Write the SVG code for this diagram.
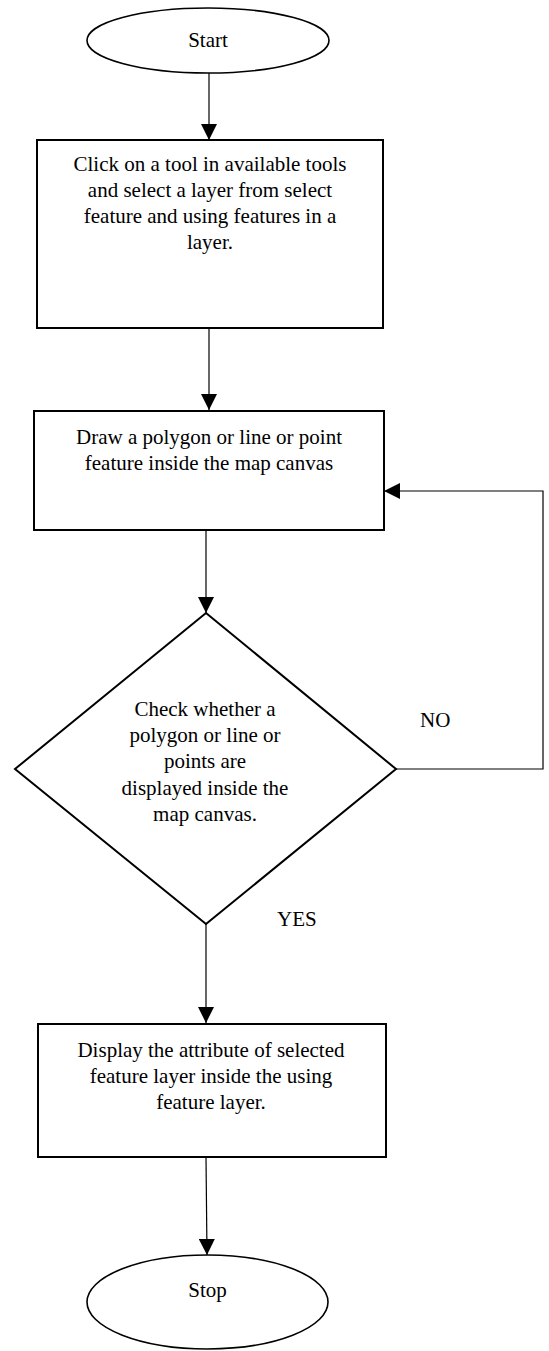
<svg xmlns="http://www.w3.org/2000/svg" width="549" height="1351" viewBox="0 0 549 1351">
<style>
.shape{fill:#fff;stroke:#000;stroke-width:2}
.term{fill:#fff;stroke:#000;stroke-width:1.6}
.conn{fill:none;stroke:#000;stroke-width:1.2}
text{font-family:"Liberation Serif",serif;font-size:21px;fill:#000;text-anchor:middle}
.lbl{text-anchor:start}
</style>
<defs>
<marker id="arr" markerWidth="16" markerHeight="16" refX="16" refY="8" orient="auto" markerUnits="userSpaceOnUse">
<path d="M0,0 L16,8 L0,16 Z" fill="#000"/>
</marker>
</defs>
<rect width="549" height="1351" fill="#fff"/>
<g id="connectors">
<line class="conn" x1="209" y1="73" x2="209" y2="140" marker-end="url(#arr)"/>
<line class="conn" x1="209" y1="328" x2="209" y2="410" marker-end="url(#arr)"/>
<line class="conn" x1="206" y1="530" x2="206" y2="613" marker-end="url(#arr)"/>
<polyline class="conn" points="396,769 543,769 543,491 384,491" marker-end="url(#arr)"/>
<line class="conn" x1="206" y1="924" x2="206" y2="1023" marker-end="url(#arr)"/>
<line class="conn" x1="206" y1="1157" x2="207" y2="1255" marker-end="url(#arr)"/>
<text class="lbl" x="420" y="727" font-family="Liberation Serif, serif">NO</text>
<text class="lbl" x="277" y="926" font-family="Liberation Serif, serif">YES</text>
</g>
<g id="start">
<ellipse class="term" cx="208" cy="40.5" rx="121" ry="32.5"/>
<text x="208" y="47" font-family="Liberation Serif, serif">Start</text>
</g>
<g id="step1" font-family="Liberation Serif, serif">
<rect class="shape" x="37" y="140" width="346" height="188"/>
<text x="210" y="171">Click on a tool in available tools</text>
<text x="210" y="197">and select a layer from select</text>
<text x="210" y="223">feature and using features in a</text>
<text x="210" y="249">layer.</text>
</g>
<g id="step2">
<rect class="shape" x="34" y="411" width="350" height="119"/>
<text x="209" y="444">Draw a polygon or line or point</text>
<text x="209" y="470">feature inside the map canvas</text>
</g>
<g id="decision">
<polygon class="shape" points="206,613 396,769 206,924 15,769"/>
<text x="205" y="716">Check whether a</text>
<text x="205" y="742">polygon or line or</text>
<text x="205" y="768">points are</text>
<text x="205" y="795">displayed inside the</text>
<text x="205" y="821">map canvas.</text>
</g>
<g id="step3">
<rect class="shape" x="38" y="1024" width="348" height="133"/>
<text x="211" y="1057">Display the attribute of selected</text>
<text x="211" y="1083">feature layer inside the using</text>
<text x="211" y="1109">feature layer.</text>
</g>
<g id="stop">
<ellipse class="term" cx="207.5" cy="1302" rx="120.5" ry="47"/>
<text x="207.5" y="1297">Stop</text>
</g>
</svg>
